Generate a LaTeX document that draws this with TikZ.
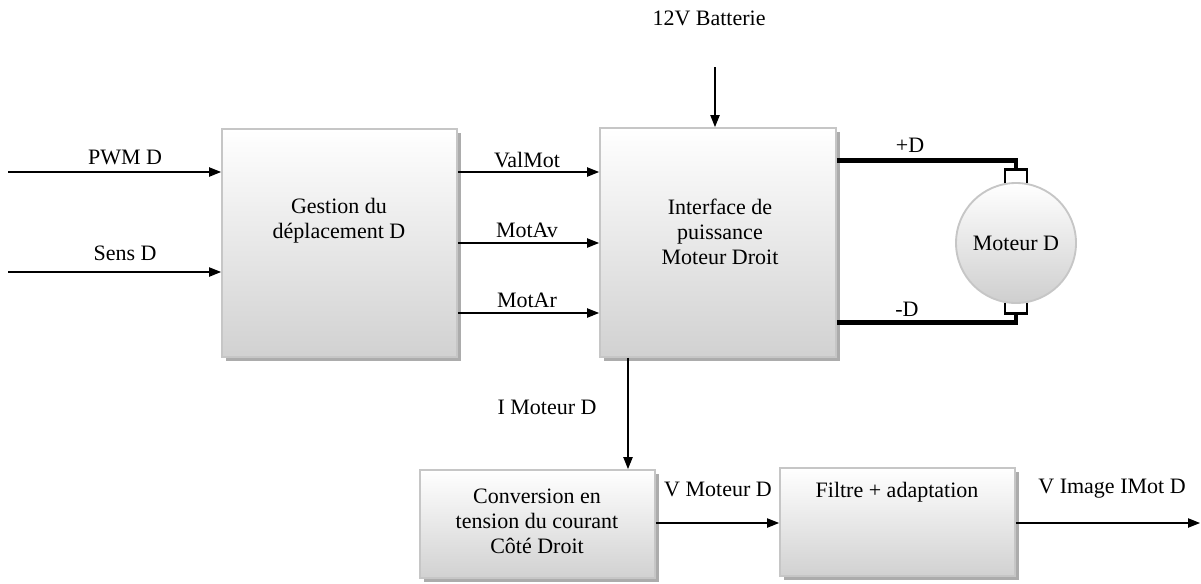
\documentclass[tikz,border=0pt]{standalone}
\usepackage{fontspec}
\setmainfont{Liberation Serif}
\usetikzlibrary{arrows.meta,calc,shadows}

\begin{document}
\begin{tikzpicture}[x=0.75pt,y=-0.75pt,
  font=\fontsize{16.5}{18.75}\selectfont,
  block/.style={rectangle, inner sep=0pt, draw=gray!45, line width=1.4pt,
    top color=white, bottom color=gray!36,
    drop shadow={shadow xshift=2.8pt, shadow yshift=-2.8pt, fill=gray!65, opacity=1}},
  motorbody/.style={circle, inner sep=0pt, minimum size=120*0.75pt,
    draw=gray!45, line width=1.4pt, top color=white, bottom color=gray!38},
  lbl/.style={inner sep=1pt, align=center},
  sig/.style={line width=0.9pt, -{Triangle[length=9pt,width=7pt]}},
  wire/.style={line width=3.6pt},
  term/.style={line width=2.2pt}]

\useasboundingbox (0,0) rectangle (1201,583);

% blocks
\node[block, minimum width=235*0.75pt, minimum height=228*0.75pt] (gestion) at (339.5,243) {};
\node[block, minimum width=236*0.75pt, minimum height=229*0.75pt] (iface) at (718,242.5) {};
\node[block, minimum width=235*0.75pt, minimum height=108*0.75pt] (conv) at (537.5,524) {};
\node[block, minimum width=235*0.75pt, minimum height=108*0.75pt] (filtre) at (897.5,522) {};
\node[motorbody] (motor) at (1016,243) {};

% block texts
\node[lbl] (gestion-txt) at (339,221) {Gestion du\\déplacement D};
\node[lbl] (iface-txt) at (720,232) {Interface de\\puissance\\Moteur Droit};
\node[lbl] (conv-txt) at (537,521) {Conversion en\\tension du courant\\Côté Droit};
\node[lbl] (filtre-txt) at (897,492) {Filtre + adaptation};
\node[lbl] (motor-txt) at (motor) {Moteur D};

% inputs of the displacement manager
\coordinate (pwm) at (8,172);
\coordinate (sens) at (8,272);
\draw[sig] (pwm) -- (pwm -| gestion.west);
\draw[sig] (sens) -- (sens -| gestion.west);
\node[lbl] (pwm-lbl) at (125,157) {PWM D};
\node[lbl] (sens-lbl) at (125,253) {Sens D};

% commands to the power interface
\coordinate (valmot) at ($(gestion.east)+(0,-71)$);
\coordinate (motav) at ($(gestion.east)+(0,0)$);
\coordinate (motar) at ($(gestion.east)+(0,70)$);
\draw[sig] (valmot) -- (valmot -| iface.west);
\draw[sig] (motav) -- (motav -| iface.west);
\draw[sig] (motar) -- (motar -| iface.west);
\node[lbl] (valmot-lbl) at (527,160) {ValMot};
\node[lbl] (motav-lbl) at (527,230) {MotAv};
\node[lbl] (motar-lbl) at (527,300) {MotAr};

% battery supply
\coordinate (bat) at (715,67);
\draw[sig] (bat) -- (bat |- iface.north);
\node[lbl] (bat-lbl) at (709,18) {12V Batterie};

% motor wiring and terminals
\draw[wire] ($(iface.east)+(0,-82)$) -| ($(motor.north)+(0,-13)$);
\draw[wire] ($(iface.east)+(0,80)$) -| ($(motor.south)+(0,10)$);
\draw[term] ($(motor.north)+(-11,1)$) -- ++(0,-14) -- ++(22,0) -- ++(0,14);
\draw[term] ($(motor.south)+(-11,-1)$) -- ++(0,11) -- ++(22,0) -- ++(0,-11);
\node[lbl] (plus-lbl) at (910,145) {+D};
\node[lbl] (minus-lbl) at (907,309) {-D};

% current measurement chain
\coordinate (imot) at ($(iface.south)+(-90,0)$);
\draw[sig] (imot) -- (imot |- conv.north);
\node[lbl] (imot-lbl) at (547,407) {I Moteur D};

\draw[sig] ($(conv.east)+(0,-1)$) coordinate (vmot) -- (vmot -| filtre.west);
\node[lbl] (vmot-lbl) at (718,489) {V Moteur D};

\coordinate (out) at (1200,523);
\draw[sig] (filtre.east |- out) -- (out);
\node[lbl] (out-lbl) at (1112,489) {V Image IMot D};

\end{tikzpicture}
\end{document}
